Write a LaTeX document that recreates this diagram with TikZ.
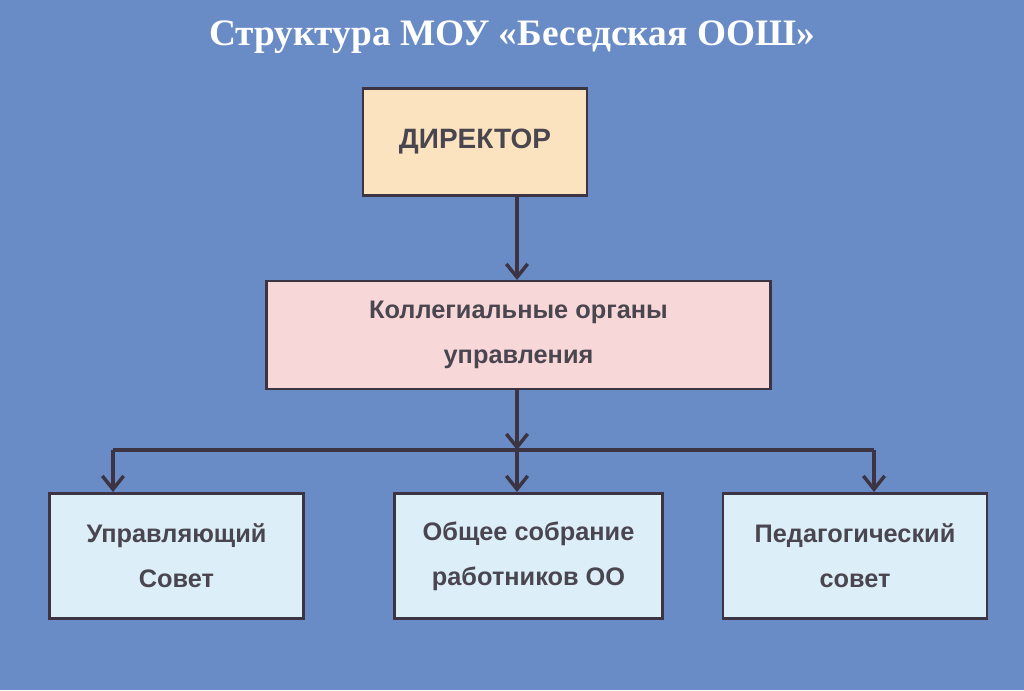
\documentclass[tikz,border=0pt]{standalone}
\usepackage{fontspec}
\setmainfont{Liberation Sans}
\newfontfamily\titlefont{Liberation Serif}
\usetikzlibrary{arrows.meta}
\definecolor{bg}{HTML}{6A8CC6}
\definecolor{ln}{HTML}{3C3442}
\definecolor{txt}{HTML}{4A4650}
\tikzset{
 x=0.75pt,y=-0.75pt,
 box/.style={draw=ln,line width=2.2pt,minimum width=#1,align=center,text=txt,font=\bfseries\fontsize{19}{34}\selectfont},
 conn/.style={draw=ln,line width=2.6pt},
 arr/.style={conn,-{Straight Barb[length=10pt,width=16pt,line width=2.6pt]}}
}
\begin{document}
\begin{tikzpicture}
\fill[bg] (0,0) rectangle (1024,690);
\useasboundingbox (0,0) rectangle (1024,690);
\node[text=white,font=\titlefont\bfseries\fontsize{28}{32}\selectfont] (title) at (512,37) {Структура МОУ «Беседская ООШ»};
\node[box=168pt,minimum height=80pt,fill={rgb,255:red,251;green,227;blue,192},font=\bfseries\fontsize{21}{24}\selectfont] (dir) at (475,142) {ДИРЕКТОР};
\node[box=378pt,minimum height=81pt,fill={rgb,255:red,248;green,215;blue,216}] (col) at (518.5,335) {Коллегиальные органы\\управления};
\node[box=191pt,minimum height=94pt,fill={rgb,255:red,220;green,238;blue,248}] (uc) at (176.5,556) {Управляющий\\Совет};
\node[box=201.5pt,minimum height=94pt,fill={rgb,255:red,220;green,238;blue,248}] (os) at (528.5,556) {Общее собрание\\работников ОО};
\node[box=198pt,minimum height=94pt,fill={rgb,255:red,220;green,238;blue,248}] (ps) at (855,556) {Педагогический\\совет};
\coordinate (b1) at (113,450);
\coordinate (bm) at (517,450);
\coordinate (b3) at (874,450);
\draw[arr] (517,197) -- (517,280);
\draw[arr] (517,390) -- (bm);
\draw[conn] (b1) -- (b3);
\draw[arr] (b1) -- (113,492);
\draw[arr] (bm) -- (517,492);
\draw[arr] (b3) -- (874,492);
\end{tikzpicture}
\end{document}
